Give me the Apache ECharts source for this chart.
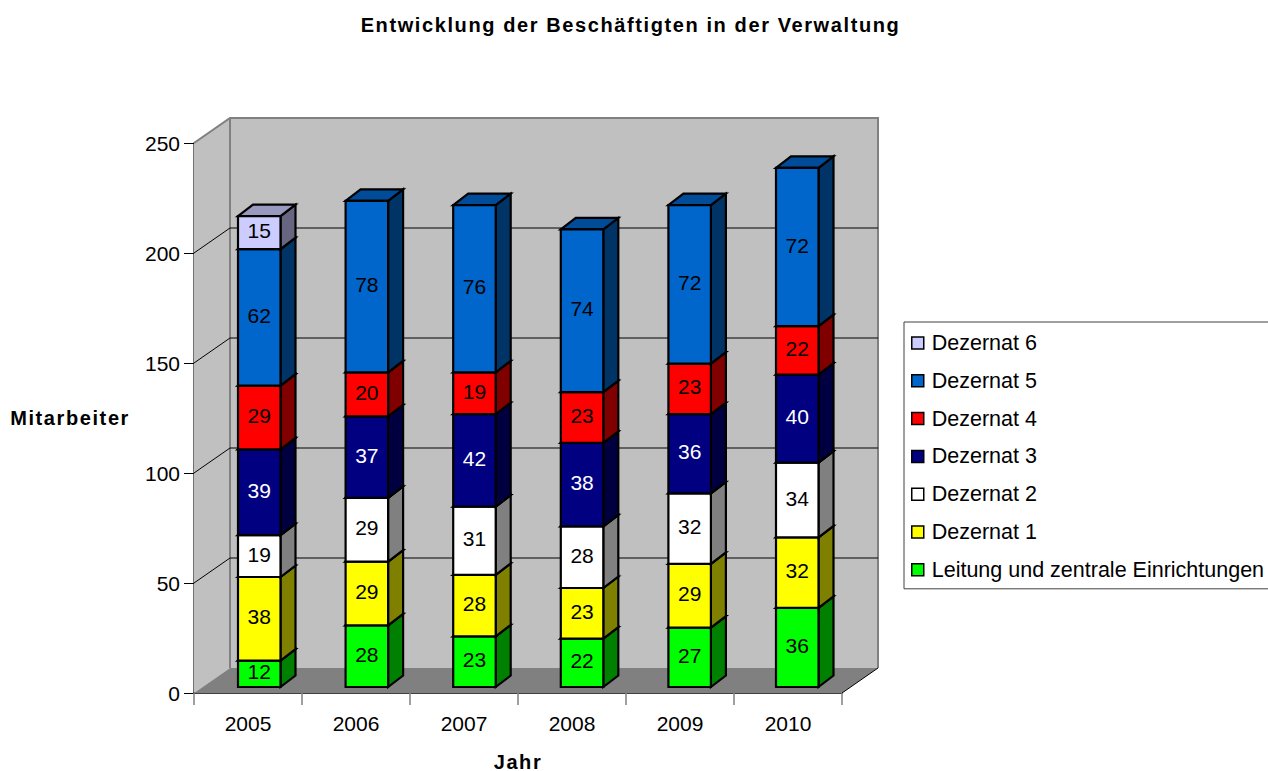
<!DOCTYPE html>
<html>
<head>
<meta charset="utf-8">
<style>
html,body{margin:0;padding:0;background:#fff;overflow:hidden}
#c{width:1268px;height:771px}
text[style*="bold"]{letter-spacing:1.6px}
</style>
<script src="https://cdn.jsdelivr.net/npm/echarts@6/dist/echarts.min.js"></script>
</head>
<body>
<div id="c"></div>
<script>
const categories = ['2005','2006','2007','2008','2009','2010'];
const leitung  = [12,28,23,22,27,36];
const dezernat1 = [38,29,28,23,29,32];
const dezernat2 = [19,29,31,28,32,34];
const dezernat3 = [39,37,42,38,36,40];
const dezernat4 = [29,20,19,23,23,22];
const dezernat5 = [62,78,76,74,72,72];
const dezernat6 = [15,0,0,0,0,0];
const seriesNames = ['Leitung und zentrale Einrichtungen','Dezernat 1','Dezernat 2','Dezernat 3','Dezernat 4','Dezernat 5','Dezernat 6'];
const seriesValues = [leitung,dezernat1,dezernat2,dezernat3,dezernat4,dezernat5,dezernat6];
const frontColors = ['#00FF00','#FFFF00','#FFFFFF','#000080','#FF0000','#0066CC','#CCCCFF'];
const sideColors  = ['#008000','#808000','#808080','#000040','#800000','#003366','#666680'];
const topColors   = ['#00BF00','#BFBF00','#BFBFBF','#000060','#BF0000','#004C99','#9999BF'];
const labelColors = ['#000','#000','#000','#fff','#000','#000','#000'];
const gridValues = [50,100,150,200];

const FONT = '"Liberation Sans", Arial, sans-serif';
const WALL_DX = 36, WALL_DY = -25;
const BAR_W = 42.5, BAR_DX = 15, BAR_DY = -11.5, BAR_SHIFT_X = -10, BAR_SHIFT_Y = -6, BAR_STEP = 0.9963;

function poly(points, fill, stroke, lineWidth) {
  return {type:'polygon', shape:{points}, style:{fill, stroke:stroke||'none', lineWidth:lineWidth||0, lineJoin:'miter'}};
}

function renderWalls(params, api) {
  const cs = params.coordSys;
  const l = cs.x, r = cs.x + cs.width, t = cs.y, b = cs.y + cs.height;
  const dx = WALL_DX, dy = WALL_DY;
  return {type:'group', children:[
    poly([[l,t],[l+dx,t+dy],[l+dx,b+dy],[l,b]], '#C0C0C0'),
    poly([[l+dx,t+dy],[r+dx,t+dy],[r+dx,b+dy],[l+dx,b+dy]], '#C0C0C0'),
    poly([[l,b],[l+dx,b+dy],[r+dx,b+dy],[r,b]], '#808080'),
    {type:'polyline', shape:{points:[[l,t],[l+dx,t+dy],[r+dx,t+dy],[r+dx,b+dy]]}, style:{fill:'none',stroke:'#808080',lineWidth:2}},
    {type:'line', shape:{x1:l+dx,y1:t+dy,x2:l+dx,y2:b+dy}, style:{stroke:'#808080',lineWidth:2}},
    {type:'line', shape:{x1:r,y1:b,x2:r+dx,y2:b+dy}, style:{stroke:'#000',lineWidth:1}}
  ]};
}

function renderGrid(params, api) {
  const cs = params.coordSys;
  const y = api.coord([0, api.value(1)])[1];
  return {type:'polyline', shape:{points:[[cs.x,y],[cs.x+WALL_DX,y+WALL_DY],[cs.x+cs.width+WALL_DX,y+WALL_DY]]},
    style:{fill:'none',stroke:'#000',lineWidth:1}};
}

function makeRender(si) {
  return function(params, api) {
    const val = api.value(3);
    if (!val) return null;
    const cat = api.value(0);
    const y0 = api.coord([cat, api.value(1)]);
    const y1 = api.coord([cat, api.value(2)]);
    const first = api.coord([0, 0])[0];
    const x = first + (y0[0] - first) * BAR_STEP + BAR_SHIFT_X;
    const bottom = y0[1] + BAR_SHIFT_Y, top = y1[1] + BAR_SHIFT_Y;
    const x2 = x + BAR_W, dx = BAR_DX, dy = BAR_DY;
    const st = '#000', lw = 2.2;
    return {type:'group', children:[
      poly([[x2,bottom],[x2+dx,bottom+dy],[x2+dx,top+dy],[x2,top]], sideColors[si], st, lw),
      poly([[x,top],[x+dx,top+dy],[x2+dx,top+dy],[x2,top]], topColors[si], st, lw),
      poly([[x,bottom],[x2,bottom],[x2,top],[x,top]], frontColors[si], st, lw),
      {type:'text', x:(x+x2)/2, y:(top+bottom)/2 - 2,
       style:{text:String(val), fill:labelColors[si], font:'21px '+FONT, align:'center', verticalAlign:'middle'}}
    ]};
  };
}

const stackSeries = seriesValues.map((vals, si) => ({
  type:'custom', name:seriesNames[si], coordinateSystem:'cartesian2d', clip:false, z:5,
  itemStyle:{color:frontColors[si]},
  encode:{x:0,y:2},
  data: vals.map((v, i) => {
    let base = 0;
    for (let k = 0; k < si; k++) base += seriesValues[k][i];
    return [i, base, base + v, v];
  }),
  renderItem: makeRender(si)
}));

const chart = echarts.init(document.getElementById('c'), null, {renderer:'svg'});
chart.setOption({
  animation:false,
  backgroundColor:'#fff',
  title:{text:'Entwicklung der Beschäftigten in der Verwaltung', left:625.5, top:10, textAlign:'center',
    textStyle:{fontFamily:FONT,fontWeight:'bold',fontSize:20,color:'#000'}},
  legend:{
    orient:'vertical', left:904, top:322, icon:'rect', itemWidth:12, itemHeight:12, itemGap:15.8,
    padding:[10,20,8,7], borderColor:'#404040', borderWidth:1, backgroundColor:'#fff',
    selectedMode:false,
    data:seriesNames.slice().reverse(),
    itemStyle:{borderColor:'#000',borderWidth:1.5},
    textStyle:{fontFamily:FONT,fontSize:21.5,color:'#000',lineHeight:20,padding:[0,0,0,3]}
  },
  grid:{left:194,top:143,width:648,height:550,outerBoundsMode:'none'},
  xAxis:{type:'category',data:categories,name:'Jahr',nameLocation:'middle',nameGap:69,
    nameTextStyle:{fontFamily:FONT,fontWeight:'bold',fontSize:20,color:'#000',verticalAlign:'middle',lineHeight:16},
    axisLine:{show:true,lineStyle:{color:'#000',width:1.5}},
    axisTick:{show:true,alignWithLabel:false,length:12,lineStyle:{color:'#808080',width:1.5}},
    axisLabel:{fontFamily:FONT,fontSize:21,color:'#000',margin:20},
    splitLine:{show:false}},
  yAxis:{type:'value',min:0,max:250,interval:50,name:'Mitarbeiter',nameLocation:'middle',nameRotate:0,nameGap:64,
    nameTextStyle:{fontFamily:FONT,fontWeight:'bold',fontSize:20,color:'#000'},
    axisLine:{show:true,lineStyle:{color:'#404040',width:1.5}},
    axisTick:{show:true,length:10,lineStyle:{color:'#000',width:1}},
    axisLabel:{fontFamily:FONT,fontSize:21,color:'#000',margin:14},
    splitLine:{show:false}},
  series:[
    {type:'custom',name:'Wände',coordinateSystem:'cartesian2d',clip:false,silent:true,z:1,data:[[0,0]],encode:{x:0,y:1},renderItem:renderWalls},
    {type:'custom',name:'Gitter',coordinateSystem:'cartesian2d',clip:false,silent:true,z:2,data:gridValues.map(v=>[0,v]),encode:{x:0,y:1},renderItem:renderGrid}
  ].concat(stackSeries)
});
</script>
</body>
</html>
